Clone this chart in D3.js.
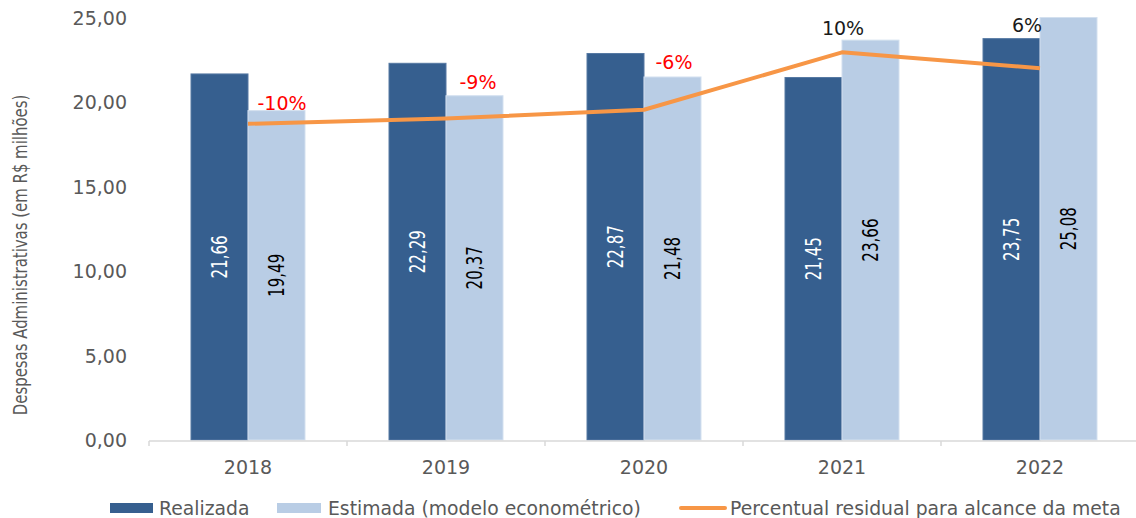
<!DOCTYPE html>
<html>
<head>
<meta charset="utf-8">
<script src="https://cdn.jsdelivr.net/npm/d3@7"></script>
<style>
  body { margin: 0; background: #fff; }
  svg { display: block; }
</style>
</head>
<body>
<svg width="1136" height="518"></svg>
<script>
var svg = d3.select("svg"),
    width = +svg.attr("width"),
    height = +svg.attr("height");

// data
var years = ["2018", "2019", "2020", "2021", "2022"];
var realizada = [21.66, 22.29, 22.87, 21.45, 23.75];
var estimada = [19.49, 20.37, 21.48, 23.66, 25.08];
var percentual = [-0.102, -0.087, -0.062, 0.101, 0.056];
var yTicks = [0, 5, 10, 15, 20, 25];

var seriesNames = ["Realizada", "Estimada (modelo econométrico)", "Percentual residual para alcance da meta"];
var colors = { real: "#365f8f", est: "#b9cde5", line: "#f79646" };

// manual nudges for the % labels, as placed in the original
var labelNudge = [[34, -21], [32, -37], [30, -48], [1, -24], [-13, -43]];

var tickFont = "'DejaVu Sans', Verdana, sans-serif";
var narrowFont = "'DejaVu Sans Condensed', 'DejaVu Sans', sans-serif";

var x0 = d3.scaleBand()
    .domain(years)
    .range([149, 1139])
    .padding(0);

var x1 = d3.scaleBand()
    .domain(["real", "est"])
    .range([0, x0.bandwidth()])
    .paddingInner(0)
    .paddingOuter(0.737);

var y = d3.scaleLinear()
    .domain([0, 25])
    .range([440, 17.5]);

// hidden secondary axis for the line
var y2 = d3.scaleLinear()
    .domain([-1, 0.2])
    .range([440, 17.5]);

var loc = d3.formatLocale({ decimal: ",", thousands: ".", grouping: [3], currency: ["R$", ""], minus: "-" });
var num = loc.format(".2f");
var pct = loc.format(".0%");

var rows = years.map((yr, i) => ({ year: yr, real: realizada[i], est: estimada[i], p: percentual[i], i: i }));

// y axis labels
svg.append("g")
    .selectAll("text")
    .data(yTicks)
    .enter().append("text")
    .attr("x", 127)
    .attr("y", d => y(d))
    .attr("text-anchor", "end")
    .attr("dominant-baseline", "central")
    .style("font-family", tickFont)
    .style("font-size", "19px")
    .style("fill", "#595959")
    .text(d => num(d));

// y axis title (squeezed along its length to look like a narrow face)
svg.append("text")
    .attr("transform", "translate(20,255) rotate(-90) scale(0.83,1)")
    .attr("text-anchor", "middle")
    .attr("dominant-baseline", "central")
    .style("font-family", narrowFont)
    .style("font-size", "20px")
    .style("fill", "#595959")
    .text("Despesas Administrativas (em R$ milhões)");

// bars
var group = svg.append("g").selectAll("g")
    .data(rows)
    .enter().append("g")
    .attr("transform", d => "translate(" + x0(d.year) + ",0)");

group.selectAll("rect")
    .data(d => ["real", "est"].map(k => ({ key: k, value: d[k] })))
    .enter().append("rect")
    .attr("x", d => x1(d.key))
    .attr("width", x1.bandwidth())
    .attr("y", d => y(Math.min(d.value, 25)))
    .attr("height", d => y(0) - y(Math.min(d.value, 25)))
    .style("fill", d => colors[d.key])
    .style("stroke", d => d.key == "real" ? "#5679a3" : "#d3e0ef")
    .style("stroke-width", 1);

group.selectAll("text")
    .data(d => ["real", "est"].map(k => ({ key: k, value: d[k] })))
    .enter().append("text")
    .attr("transform", d => {
        var cx = x1(d.key) + x1.bandwidth() / 2;
        var cy = (y(Math.min(d.value, 25)) + y(0)) / 2;
        return "translate(" + cx + "," + cy + ") rotate(-90) scale(0.8,1)";
    })
    .attr("text-anchor", "middle")
    .attr("dominant-baseline", "central")
    .style("font-family", narrowFont)
    .style("font-size", "21px")
    .style("fill", d => d.key == "real" ? "#fff" : "#000")
    .text(d => num(d.value));

// x axis
var xAxis = svg.append("g");
xAxis.append("line")
    .attr("x1", x0.range()[0])
    .attr("x2", x0.range()[1])
    .attr("y1", 441)
    .attr("y2", 441)
    .style("stroke", "#d9d9d9")
    .style("stroke-width", 1.5);

xAxis.selectAll(".tick")
    .data(years.concat(["end"]))
    .enter().append("line")
    .attr("class", "tick")
    .attr("x1", (d, i) => x0.range()[0] + i * x0.step())
    .attr("x2", (d, i) => x0.range()[0] + i * x0.step())
    .attr("y1", 441)
    .attr("y2", 446)
    .style("stroke", "#d9d9d9")
    .style("stroke-width", 1.5);

xAxis.selectAll("text")
    .data(years)
    .enter().append("text")
    .attr("x", d => x0(d) + x0.bandwidth() / 2)
    .attr("y", 467)
    .attr("text-anchor", "middle")
    .attr("dominant-baseline", "central")
    .style("font-family", tickFont)
    .style("font-size", "19px")
    .style("fill", "#595959")
    .text(d => d);

// line
var line = d3.line()
    .x(d => x0(d.year) + x0.bandwidth() / 2)
    .y(d => y2(d.p));

svg.append("path")
    .datum(rows)
    .attr("d", line)
    .style("fill", "none")
    .style("stroke", colors.line)
    .style("stroke-width", 4)
    .style("stroke-linejoin", "round");

svg.append("g")
    .selectAll("text")
    .data(rows)
    .enter().append("text")
    .attr("x", d => x0(d.year) + x0.bandwidth() / 2 + labelNudge[d.i][0])
    .attr("y", d => y2(d.p) + labelNudge[d.i][1])
    .attr("text-anchor", "middle")
    .attr("dominant-baseline", "central")
    .style("font-family", tickFont)
    .style("font-size", "19px")
    .style("fill", d => d.p < 0 ? "#ff0000" : "#1a1a1a")
    .text(d => pct(d.p));

// legend
var legend = svg.append("g");
legend.append("rect")
    .attr("x", 110).attr("y", 503).attr("width", 43).attr("height", 10)
    .style("fill", colors.real);
legend.append("text")
    .attr("x", 159).attr("y", 508)
    .text(seriesNames[0]);
legend.append("rect")
    .attr("x", 277).attr("y", 503).attr("width", 44).attr("height", 10)
    .style("fill", colors.est);
legend.append("text")
    .attr("x", 328).attr("y", 508)
    .text(seriesNames[1]);
legend.append("line")
    .attr("x1", 681).attr("x2", 725).attr("y1", 508).attr("y2", 508)
    .style("stroke", colors.line)
    .style("stroke-width", 4)
    .style("stroke-linecap", "round");
legend.append("text")
    .attr("x", 730).attr("y", 508)
    .text(seriesNames[2]);

legend.selectAll("text")
    .attr("dominant-baseline", "central")
    .style("font-family", tickFont)
    .style("font-size", "18.8px")
    .style("fill", "#595959");
</script>
</body>
</html>
